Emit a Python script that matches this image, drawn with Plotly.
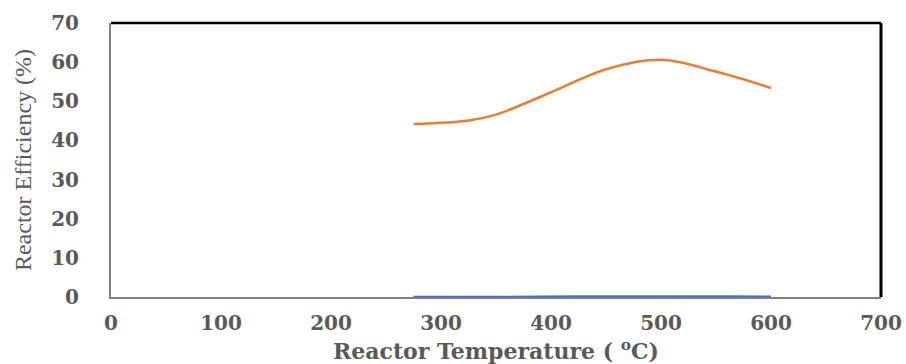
import plotly.graph_objects as go

temps_eff = [275, 325, 350, 400, 450, 500, 550, 600]
efficiency = [44.2, 45.1, 46.6, 52.3, 58.2, 60.6, 57.6, 53.4]

temps_low = [275, 350, 425, 500, 560, 600]
low_series = [0.0, 0.0, 0.12, 0.15, 0.15, 0.05]

x_ticks = [0, 100, 200, 300, 400, 500, 600, 700]
y_ticks = [0, 10, 20, 30, 40, 50, 60, 70]

tick_font = dict(family="DejaVu Serif", size=20, color="#595959", weight="bold")

fig = go.Figure()
fig.add_trace(go.Scatter(x=temps_low, y=low_series, mode="lines",
                         line=dict(color="#4472C4", width=2.5, shape="spline"),
                         cliponaxis=False, showlegend=False))
fig.add_trace(go.Scatter(x=temps_eff, y=efficiency, mode="lines",
                         line=dict(color="#ED7D31", width=2.5, shape="spline", smoothing=1.0),
                         cliponaxis=False, showlegend=False))

fig.update_layout(
    width=906, height=364,
    margin=dict(l=111, r=25, t=23, b=67),
    paper_bgcolor="white", plot_bgcolor="white",
    xaxis=dict(range=[0, 700], tickvals=x_ticks, showgrid=False, zeroline=False,
               showline=True, linecolor="#808080", linewidth=2, layer="below traces",
               tickfont=tick_font, ticks="", ticklabelstandoff=7, automargin=False,
               title=dict(text="Reactor Temperature ( <sup>o</sup>C)",
                          font=dict(family="DejaVu Serif", size=22, color="#595959", weight="bold"),
                          standoff=15)),
    yaxis=dict(range=[0, 70], tickvals=y_ticks, showgrid=False, zeroline=False,
               showline=True, linecolor="#808080", linewidth=2, layer="below traces",
               tickfont=tick_font, ticks="", ticklabelstandoff=26, automargin=False,
               title=dict(text="Reactor Efficiency (%)",
                          font=dict(family="Liberation Serif", size=24, color="#595959"),
                          standoff=13)),
    shapes=[
        dict(type="line", xref="paper", yref="paper", x0=0, x1=1, y0=1, y1=1,
             line=dict(color="black", width=2.5)),
        dict(type="line", xref="paper", yref="paper", x0=1, x1=1, y0=0, y1=1,
             line=dict(color="black", width=3)),
    ],
)

fig.write_html("out.html")
